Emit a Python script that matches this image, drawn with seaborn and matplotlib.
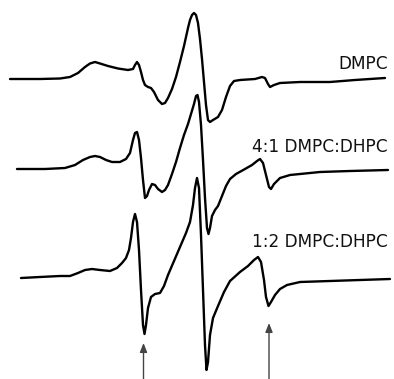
import matplotlib
matplotlib.use("Agg")
import matplotlib.pyplot as plt
import seaborn as sns
import pandas as pd
import numpy as np

sns.set_theme(style="white")
plt.rcParams['font.family'] = ['DejaVu Sans']

# Field positions (arbitrary units, left -> right) and first-derivative EPR signal
# for each sample; signal is relative to each trace's own baseline (up = positive)
dmpc_field = [10, 40, 60, 70, 78, 85, 90, 95, 100, 108, 118, 128, 133, 135, 137, 139,
              141, 143, 145, 148, 151, 154, 158, 162, 165, 168, 172, 176, 180, 184,
              188, 190, 192, 194, 196, 198, 200, 202, 204, 206, 208, 210, 213, 218, 222,
              226, 230, 234, 240, 255, 262, 265, 268, 270, 274, 280, 300, 330, 355, 385]
dmpc_signal = [0, 0, 0.5, 2, 6, 12, 15.5, 17, 15.5, 13, 10.5, 9, 10, 14, 17, 14,
               7, -1, -6, -8, -9, -13, -21, -25, -24, -19, -10, 2, 17, 33,
               51, 59, 64, 66, 64, 56, 40, 20, -3, -26, -41, -43, -41, -38, -31,
               -18, -7, -2, -1, 0, 2, 1, -5, -8, -6, -4, -3, -3, -1, 1]

mix41_field = [17, 45, 65, 75, 83, 90, 95, 100, 106, 112, 120, 126, 130, 133, 135, 137,
               139, 141, 143, 145, 147, 149, 152, 155, 158, 162, 165, 168, 172, 176,
               180, 184, 188, 191, 194, 196, 197.5, 199, 201, 203, 205, 207, 208.5,
               210, 212, 215, 218, 222, 226, 230, 236, 245, 252, 257, 260, 263, 266,
               269, 271, 274, 280, 290, 320, 350, 388]
mix41_signal = [0, 0, 1, 4, 9, 12, 13, 12, 9, 7, 7, 10, 16, 29, 36, 37,
                29, 11, -11, -29, -27, -21, -15, -16, -20, -23, -21, -16, -5, 7,
                21, 34, 45, 55, 65, 73, 74, 67, 44, 9, -29, -59, -65,
                -59, -47, -41, -37, -27, -17, -10, -5, 0, 4, 8, 10, 6, -6,
                -18, -20, -15, -9, -6, -3, -2, -1]

mix12_field = [21, 40, 60, 70, 78, 85, 92, 100, 110, 117, 122, 126, 129, 131, 133,
               135, 137, 139, 141, 143, 144.5, 146, 148, 151, 155, 160, 164, 168,
               174, 180, 186, 190, 193, 195, 197, 199, 201, 203, 205, 206.5, 208,
               210, 213, 218, 224, 230, 240, 248, 254, 258, 261, 264, 266, 268.5,
               271, 275, 280, 287, 300, 330, 360, 390]
mix12_signal = [0, 1, 2, 2, 5, 8, 9, 8, 7, 10, 15, 20, 28, 40, 56,
                64, 56, 28, -12, -47, -56, -47, -30, -19, -16, -15, -8, 3,
                17, 31, 45, 56, 73, 90, 100, 90, 43, -12, -67, -92, -84,
                -57, -40, -28, -14, -3, 6, 12, 18, 21, 16, -2, -19, -28,
                -24, -17, -11, -7, -4, -3, -2, -1]

labels = ["DMPC", "4:1 DMPC:DHPC", "1:2 DMPC:DHPC"]
baselines = [79, 169, 278]          # vertical stacking offsets
label_y = [64, 147, 242]
arrow_field = [143.5, 269]
arrow_tip = [343, 323]

frames = []
for name, f, s, b in zip(labels,
                         [dmpc_field, mix41_field, mix12_field],
                         [dmpc_signal, mix41_signal, mix12_signal],
                         baselines):
    frames.append(pd.DataFrame({"field": f,
                                "y": np.array(s, dtype=float) - b,
                                "sample": name}))
df = pd.concat(frames, ignore_index=True)

fig = plt.figure(figsize=(3.94, 3.79), dpi=100)
ax = fig.add_axes([0, 0, 1, 1])
sns.lineplot(data=df, x="field", y="y", units="sample", estimator=None,
             sort=False, color="black", linewidth=1.7, ax=ax, legend=False)
for ln in ax.get_lines():
    ln.set_solid_joinstyle("round")
    ln.set_solid_capstyle("round")

for lab, ly in zip(labels, label_y):
    ax.text(388, -ly, lab, ha="right", va="center", fontsize=12.2,
            color="#111111")

for xf, tip in zip(arrow_field, arrow_tip):
    ax.annotate("", xy=(xf, -tip), xytext=(xf, -379),
                arrowprops=dict(arrowstyle="-|>,head_length=0.45,head_width=0.18",
                                color="#444444", lw=1.0, shrinkA=0, shrinkB=0))

ax.set_xlim(0, 394)
ax.set_ylim(-379, 0)
ax.axis("off")
fig.savefig("out.png", dpi=100, facecolor="white")
